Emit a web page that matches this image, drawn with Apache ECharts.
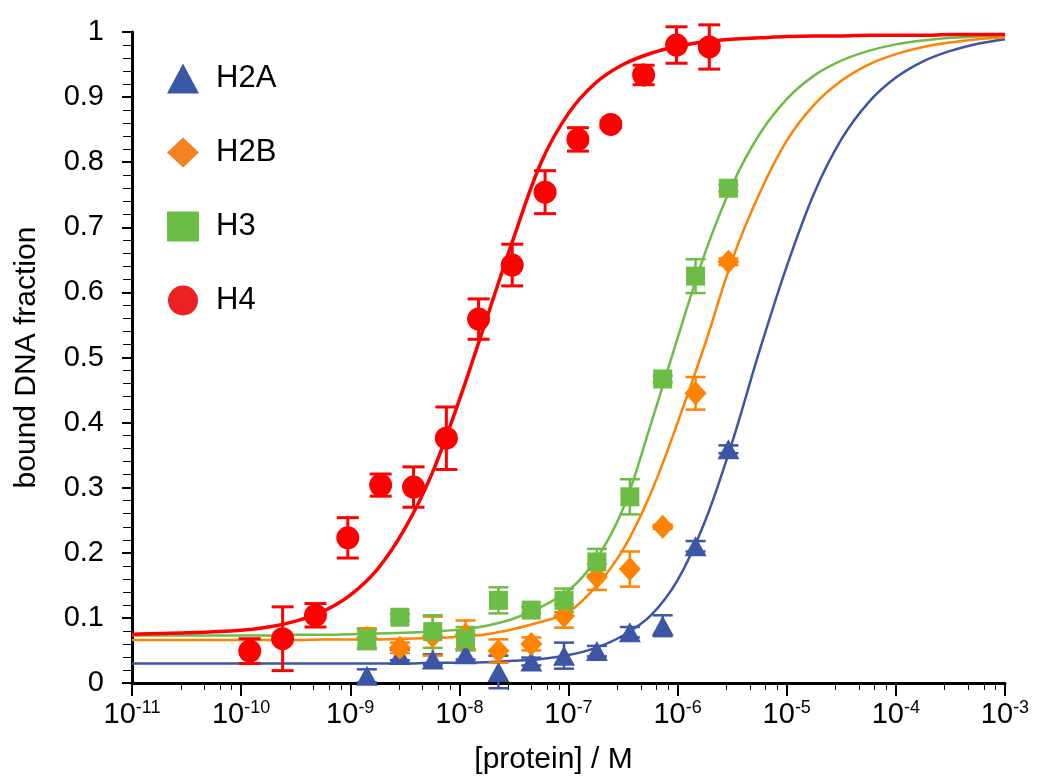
<!DOCTYPE html>
<html>
<head>
<meta charset="utf-8">
<script src="https://cdn.jsdelivr.net/npm/echarts@6/dist/echarts.min.js"></script>
<style>
  html, body { margin: 0; padding: 0; background: #fff; }
  #chart { width: 1045px; height: 781px; }
</style>
</head>
<body>
<div id="chart"></div>
<script>
// concentrations (M)
var concH4 = [1.2e-10, 2.4e-10, 4.8e-10, 9.5e-10, 1.9e-9, 3.8e-9, 7.6e-9, 1.5e-8, 3.05e-8, 6.1e-8, 1.22e-7, 2.44e-7, 4.88e-7, 9.77e-7, 1.95e-6]
var concOther = [1.42e-9, 2.85e-9, 5.7e-9, 1.14e-8, 2.28e-8, 4.56e-8, 9.1e-8, 1.82e-7, 3.65e-7, 7.3e-7, 1.46e-6, 2.92e-6]

// measured bound fraction and error
var h2a = [0.011, 0.043, 0.036, 0.044, 0.017, 0.033, 0.042, 0.049, 0.078, 0.088, 0.210, 0.359]
var h2aErr = [0.010, 0.008, 0.008, 0.008, 0.025, 0.006, 0.020, 0.008, 0.008, 0.016, 0.008, 0.006]
var h2b = [0.069, 0.054, 0.072, 0.074, 0.049, 0.060, 0.103, 0.163, 0.175, 0.240, 0.445, 0.647]
var h2bErr = [0.015, 0.008, 0.030, 0.022, 0.018, 0.010, 0.018, 0.020, 0.027, 0.003, 0.025, 0.005]
var h3 = [0.067, 0.101, 0.079, 0.068, 0.127, 0.112, 0.127, 0.186, 0.286, 0.467, 0.625, 0.760]
var h3Err = [0.015, 0.005, 0.025, 0.018, 0.020, 0.005, 0.018, 0.020, 0.027, 0.005, 0.026, 0.005]
var h4 = [0.049, 0.068, 0.104, 0.223, 0.304, 0.301, 0.376, 0.559, 0.642, 0.754, 0.835, 0.858, 0.934, 0.980, 0.977]
var h4Err = [0.019, 0.049, 0.018, 0.031, 0.017, 0.031, 0.048, 0.031, 0.032, 0.033, 0.018, 0.005, 0.015, 0.028, 0.034]

// fit curves (x as log10 of concentration)
var fitLogX = [-11, -10.5, -10, -9.75, -9.5, -9.25, -9, -8.75, -8.5, -8.25, -8, -7.75, -7.5, -7.25, -7, -6.75, -6.5, -6.25, -6, -5.75, -5.5, -5.25, -5, -4.75, -4.5, -4.25, -4, -3.75, -3.5, -3.25, -3]
var fitH2A = [0.030, 0.030, 0.030, 0.030, 0.030, 0.030, 0.030, 0.030, 0.030, 0.031, 0.031, 0.032, 0.034, 0.037, 0.043, 0.054, 0.073, 0.103, 0.158, 0.248, 0.370, 0.510, 0.640, 0.752, 0.835, 0.892, 0.930, 0.955, 0.971, 0.982, 0.989]
var fitH2B = [0.066, 0.066, 0.066, 0.066, 0.066, 0.067, 0.067, 0.067, 0.068, 0.069, 0.071, 0.075, 0.083, 0.094, 0.109, 0.148, 0.205, 0.290, 0.400, 0.520, 0.650, 0.752, 0.833, 0.888, 0.925, 0.950, 0.966, 0.977, 0.984, 0.989, 0.992]
var fitH3 = [0.073, 0.073, 0.073, 0.073, 0.074, 0.074, 0.075, 0.076, 0.077, 0.079, 0.082, 0.088, 0.099, 0.117, 0.142, 0.189, 0.268, 0.395, 0.530, 0.660, 0.765, 0.843, 0.897, 0.933, 0.956, 0.971, 0.981, 0.987, 0.991, 0.993, 0.995]
var fitH4 = [0.075, 0.077, 0.081, 0.086, 0.095, 0.110, 0.135, 0.175, 0.237, 0.322, 0.435, 0.560, 0.685, 0.800, 0.875, 0.922, 0.950, 0.967, 0.978, 0.985, 0.989, 0.991, 0.993, 0.994, 0.994, 0.995, 0.995, 0.995, 0.996, 0.996, 0.996]

var FONT = 'Liberation Sans, Arial, Helvetica, sans-serif'
var BLUE = '#3c55a5'
var ORANGE = '#ff8200'
var GREEN = '#6cbd45'
var RED = '#ff0000'

function pairs(xs, ys) {
  return xs.map(function (x, i) { return [x, ys[i]] })
}

function fitLine(ys, color, width) {
  return {
    type: 'line',
    data: pairs(fitLogX.map(function (e) { return Math.pow(10, e) }), ys),
    showSymbol: false,
    smooth: 0.35,
    silent: true,
    lineStyle: { color: color, width: width },
    z: 2
  }
}

function errBars(name, conc, vals, errs, color, lw, cap) {
  return {
    type: 'custom',
    name: name,
    data: conc.map(function (c, i) { return [c, vals[i], errs[i]] }),
    encode: { x: 0, y: 1 },
    silent: true,
    z: 3,
    renderItem: function (params, api) {
      var x = api.value(0)
      var y = api.value(1)
      var e = api.value(2)
      var hi = api.coord([x, y + e])
      var lo = api.coord([x, y - e])
      var h = cap / 2
      var st = { stroke: color, lineWidth: lw }
      return {
        type: 'group',
        children: [
          { type: 'line', shape: { x1: hi[0], y1: hi[1], x2: lo[0], y2: lo[1] }, style: st },
          { type: 'line', shape: { x1: hi[0] - h, y1: hi[1], x2: hi[0] + h, y2: hi[1] }, style: st },
          { type: 'line', shape: { x1: lo[0] - h, y1: lo[1], x2: lo[0] + h, y2: lo[1] }, style: st }
        ]
      }
    }
  }
}

function points(name, conc, vals, color, symbol, size) {
  return {
    type: 'scatter',
    name: name,
    data: pairs(conc, vals),
    symbol: symbol,
    symbolSize: size,
    itemStyle: { color: color, opacity: 1 },
    z: 4
  }
}

var chart = echarts.init(document.getElementById('chart'))
chart.setOption({
  animation: false,
  backgroundColor: '#fff',
  grid: { left: 132, right: 40, top: 32, bottom: 98 },
  legend: {
    orient: 'vertical',
    left: 162,
    top: 58,
    itemWidth: 32,
    itemHeight: 30,
    itemGap: 43,
    textStyle: { fontSize: 31, color: '#000', fontFamily: FONT, padding: [0, 0, 0, 12] },
    data: [
      { name: 'H2A', icon: 'triangle', itemStyle: { color: '#3d57a7' } },
      { name: 'H2B', icon: 'diamond', itemStyle: { color: '#f58220' } },
      { name: 'H3', icon: 'rect', itemStyle: { color: '#6cbd45' } },
      { name: 'H4', icon: 'circle', itemStyle: { color: '#ed2024' } }
    ]
  },
  xAxis: {
    type: 'log',
    logBase: 10,
    min: 1e-11,
    max: 1e-3,
    interval: 1,
    splitNumber: 8,
    name: '[protein] / M',
    nameLocation: 'middle',
    nameGap: 62,
    nameTextStyle: { fontSize: 30, color: '#000', fontFamily: FONT, padding: [0, 30, 0, 0] },
    splitLine: { show: false },
    axisLine: { lineStyle: { color: '#000', width: 3 } },
    axisTick: { length: 13, lineStyle: { color: '#000', width: 2 } },
    minorTick: { show: true, splitNumber: 5, length: 7, lineStyle: { color: '#000', width: 1 } },
    axisLabel: {
      margin: 16,
      color: '#000',
      formatter: function (v) {
        return '{b|10}{s|' + Math.round(Math.log10(v)) + '}'
      },
      rich: {
        b: { fontSize: 29, fontFamily: FONT, color: '#000' },
        s: { fontSize: 18, fontFamily: FONT, color: '#000', padding: [0, 0, 14, 0] }
      }
    }
  },
  yAxis: {
    type: 'value',
    min: 0,
    max: 1,
    interval: 0.1,
    name: 'bound DNA fraction',
    nameLocation: 'middle',
    nameGap: 90,
    nameTextStyle: { fontSize: 30, color: '#000', fontFamily: FONT },
    splitLine: { show: false },
    axisLine: { show: true, lineStyle: { color: '#000', width: 3 } },
    axisTick: { show: true, length: 10, lineStyle: { color: '#000', width: 2 } },
    minorTick: { show: true, splitNumber: 5, length: 9, lineStyle: { color: '#000', width: 1 } },
    axisLabel: { margin: 28, fontSize: 29, color: '#000', fontFamily: FONT }
  },
  series: [
    fitLine(fitH2A, BLUE, 2.5),
    fitLine(fitH2B, ORANGE, 2.5),
    fitLine(fitH3, GREEN, 2.5),
    fitLine(fitH4, RED, 3.5),
    errBars('H2A err', concOther, h2a, h2aErr, BLUE, 2.5, 20),
    errBars('H2B err', concOther, h2b, h2bErr, ORANGE, 2.5, 20),
    errBars('H3 err', concOther, h3, h3Err, GREEN, 2.5, 20),
    errBars('H4 err', concH4, h4, h4Err, RED, 3, 22),
    points('H2A', concOther, h2a, BLUE, 'triangle', [22, 20]),
    points('H2B', concOther, h2b, ORANGE, 'diamond', [22, 24]),
    points('H3', concOther, h3, GREEN, 'rect', 19),
    points('H4', concH4, h4, RED, 'circle', 23)
  ]
})
</script>
</body>
</html>
